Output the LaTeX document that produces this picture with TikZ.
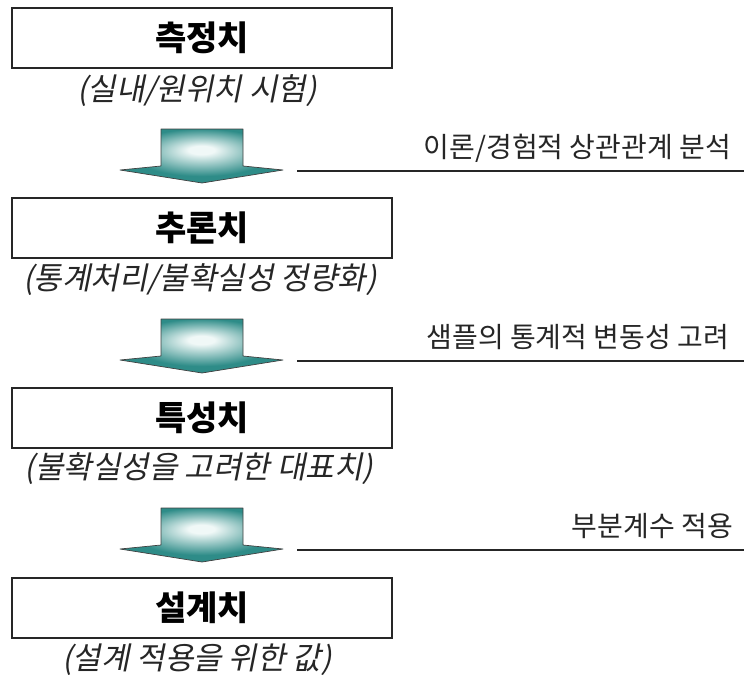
\documentclass[tikz,border=0pt]{standalone}
\usepackage{fontspec}
\setmainfont{Noto Sans CJK KR}
\newfontfamily\krit[FakeSlant=0.2]{Noto Sans CJK KR}
\usetikzlibrary{positioning}
\definecolor{tealc}{RGB}{46,140,136}
\definecolor{glowc}{RGB}{240,248,247}
\pgfdeclareradialshading{arrowglow}{\pgfpoint{0bp}{6bp}}{color(0bp)=(glowc); color(4bp)=(glowc); color(22bp)=(tealc); color(50bp)=(tealc)}
\tikzset{
  stagebox/.style={draw=black!85, line width=1.4pt, fill=white, minimum width=380pt, minimum height=60pt, inner sep=0pt, font=\fontsize{34}{40}\selectfont\bfseries},
  subtxt/.style={inner sep=0pt, font=\fontsize{31}{36}\selectfont\krit, text=black!85},
  sidetxt/.style={inner sep=0pt, anchor=east, font=\fontsize{28}{34}\selectfont, text=black!85},
  sideline/.style={line width=1.3pt, black!85},
  flowarrow/.style={shading=arrowglow, draw=black!75, line width=0.7pt, line join=round}
}
\begin{document}
\begin{tikzpicture}[x=1pt,y=-1pt]
\useasboundingbox (0,0) rectangle (744,677);
% boxes
\node[stagebox] (b1) at (202,38) {측정치};
\node[stagebox] (b2) at (202,228) {추론치};
\node[stagebox] (b3) at (202,418) {특성치};
\node[stagebox] (b4) at (202,608) {설계치};
% subtitles
\node[subtxt] (s1) at (197,91) {(실내/원위치 시험)};
\node[subtxt] (s2) at (200,280) {(통계처리/불확실성 정량화)};
\node[subtxt] (s3) at (199,469) {(불확실성을 고려한 대표치)};
\node[subtxt] (s4) at (197,660) {(설계 적용을 위한 값)};
% arrows
\foreach \t/\n in {129/a1,319/a2,508/a3}{
  \begin{scope}[shift={(0,\t)}]
    \shade[flowarrow] (161,0) -- (243,0) -- (243,37) -- (283,41) -- (202,54) -- (120,41) -- (161,37) -- cycle;
    \coordinate (\n) at (297,42);
  \end{scope}
}
% side lines and labels
\coordinate (e1) at (744,171);
\coordinate (e2) at (744,361);
\coordinate (e3) at (744,550);
\draw[sideline] (a1) -- (e1);
\draw[sideline] (a2) -- (e2);
\draw[sideline] (a3) -- (e3);
\node[sidetxt] (l1) at (731,148) {이론/경험적 상관관계 분석};
\node[sidetxt] (l2) at (729,337) {샘플의 통계적 변동성 고려};
\node[sidetxt] (l3) at (733,526) {부분계수 적용};
\end{tikzpicture}
\end{document}
